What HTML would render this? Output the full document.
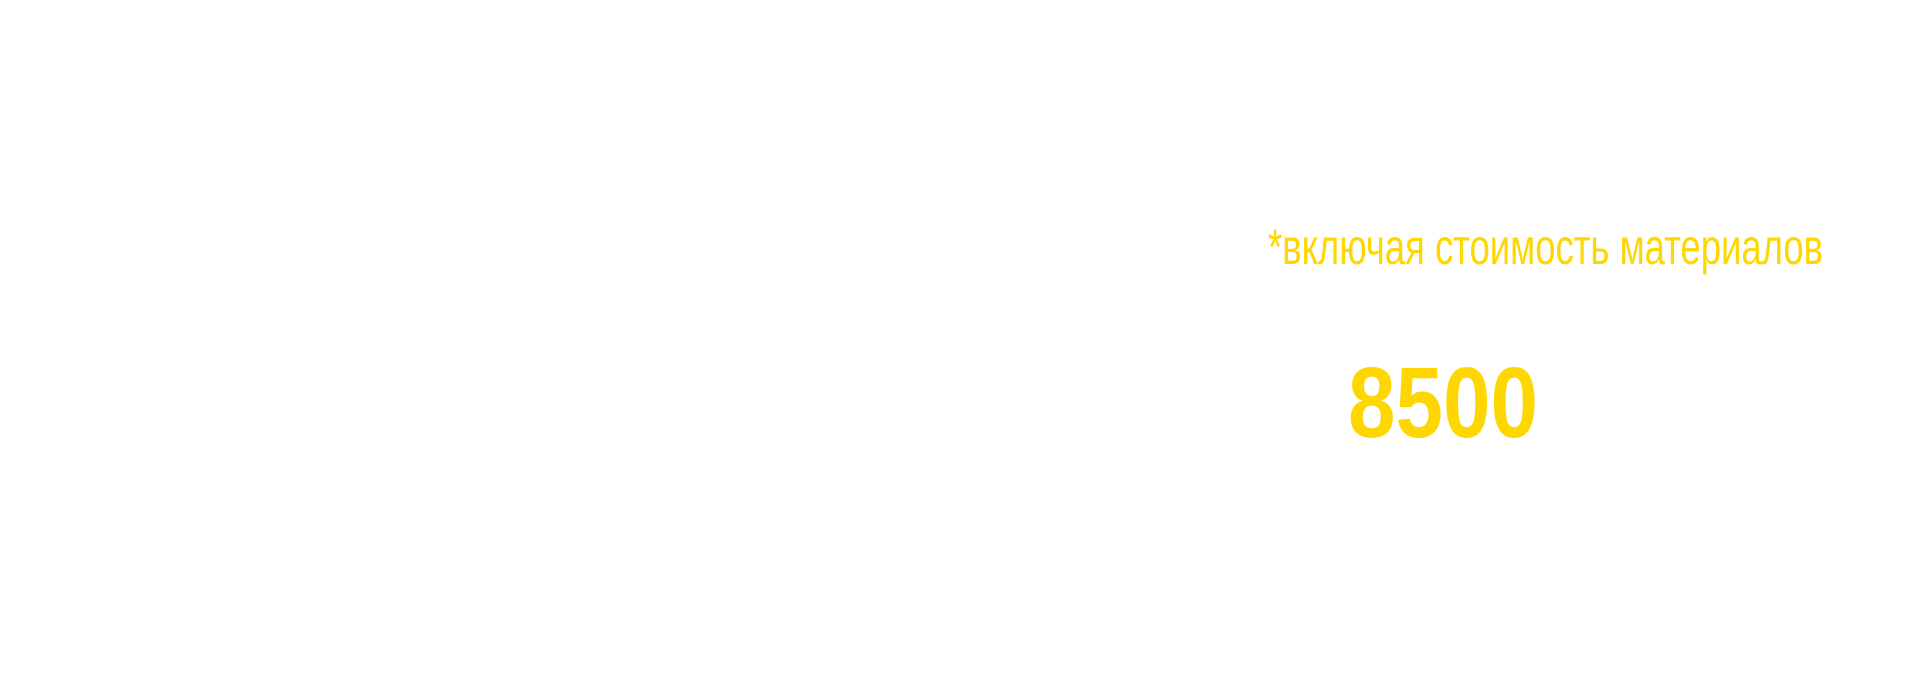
<!DOCTYPE html>
<html><head><meta charset="utf-8"><style>
html,body{margin:0;padding:0;background:#fff;width:1920px;height:700px;overflow:hidden}
</style></head><body>
<svg width="1920" height="700" xmlns="http://www.w3.org/2000/svg">
<rect width="1920" height="700" fill="#fff"/>
<text x="1268" y="264" font-family="Liberation Sans, DejaVu Sans, sans-serif" font-size="50" fill="#FFD700" textLength="555" lengthAdjust="spacingAndGlyphs">*включая стоимость материалов</text>
<text x="1348" y="437" font-family="Liberation Sans, sans-serif" font-weight="bold" font-size="100" fill="#FFD700" textLength="190" lengthAdjust="spacingAndGlyphs">8500</text>
</svg>
</body></html>
